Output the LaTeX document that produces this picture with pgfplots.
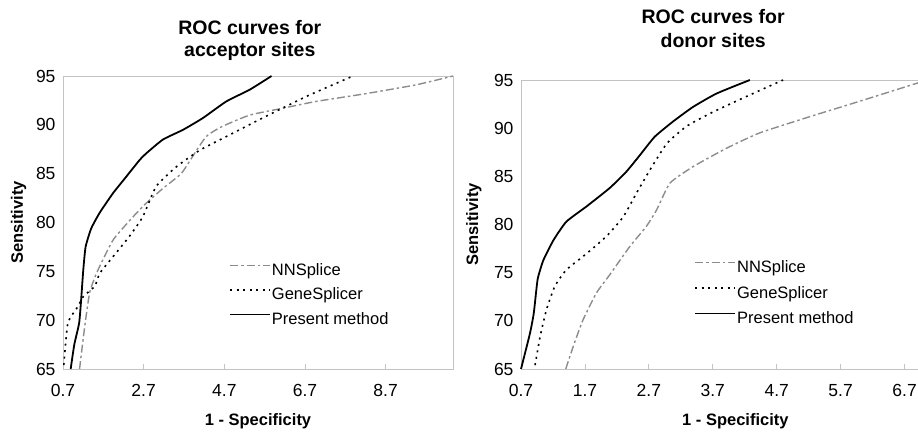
\documentclass[border=0pt]{standalone}
\usepackage{pgfplots}
\pgfplotsset{compat=1.18}
\usepackage{fontspec}
\setmainfont{Liberation Sans}
\definecolor{framegray}{RGB}{195,195,195}
\definecolor{nngray}{RGB}{140,140,140}
\pgfplotsset{
  rocaxis/.style={
    scale only axis, clip=false, anchor=south west,
    ymin=65, ymax=95, ytick={65,70,...,95},
    yticklabels={65,70,75,80,85,90,95},
    axis line style={framegray, line width=0.8pt},
    tick align=inside, major tick length=5pt,
    xtick style={framegray, line width=0.8pt},
    ytick style={draw=none},
    xtick pos=bottom, ytick pos=left,
    ticklabel style={font=\fontsize{17.5}{19}\selectfont},
    xticklabel style={yshift=-12pt},
    yticklabel style={xshift=-4pt},
    xlabel={\textbf{1 - Specificity}},
    ylabel={\textbf{Sensitivity}},
    label style={font=\fontsize{16.5}{18}\selectfont},
    legend cell align=left,
    legend image code/.code={\draw[##1] (0pt,5.5pt) -- (40pt,5.5pt);},
    legend style={draw=none, fill=none, inner sep=0pt, anchor=north west,
      font=\fontsize{16.5}{18}\selectfont,
      nodes={inner sep=1pt, text height=12.5pt, text depth=3.5pt},
      /tikz/every even column/.append style={column sep=2pt}},
  },
  nnstyle/.style={nngray, line width=1.4pt, smooth, tension=0.3, dash pattern=on 8pt off 3pt on 2.5pt off 3pt},
  gsstyle/.style={black, line width=1.6pt, smooth, tension=0.3, dash pattern=on 2pt off 4.5pt},
  pmstyle/.style={black, line width=1.8pt, smooth, tension=0.3},
}
\begin{document}
\begin{tikzpicture}[x=1pt,y=1pt]
\useasboundingbox (0,0) rectangle (918,432);
% ---------- left: acceptor sites
\begin{axis}[rocaxis,
  at={(63pt,63pt)}, width=390pt, height=293pt,
  xmin=0.7, xmax=10.37,
  xtick={0.7,2.7,4.7,6.7,8.7},
  xticklabels={0.7,2.7,4.7,6.7,8.7},
  xlabel style={at={(axis description cs:0.5,0)}, anchor=base, yshift=-56pt},
  ylabel style={at={(axis description cs:-0.1026,0.5)}, anchor=base, rotate=0},
  legend style={at={(axis description cs:0.4256,0.366)}, row sep=6.5pt},
]
\addplot[nnstyle] coordinates {(1.11,65) (1.24,69.4) (1.36,72.8) (1.53,74.8) (1.94,78.2) (2.44,80.6) (2.77,82) (3.18,83.5) (3.63,85) (3.92,86.8) (4.25,88.8) (4.63,89.8) (5.33,91) (6.15,91.7) (6.98,92.4) (8.22,93.2) (9.46,94.1) (10.37,95)};
\addlegendentry{NNSplice}
\addplot[gsstyle] coordinates {(0.72,65.4) (0.82,69.7) (1.07,71.4) (1.2,72.4) (1.49,73.5) (1.61,74.8) (1.94,76.5) (2.35,78.6) (2.68,80.6) (3.01,83.7) (3.51,85.7) (4.09,87.4) (4.75,88.8) (5.41,90.2) (5.99,91.4) (6.73,92.9) (7.39,94.1) (7.89,95)};
\addlegendentry{GeneSplicer}
\addplot[pmstyle] coordinates {(0.89,65) (0.98,67.5) (1.1,69.7) (1.15,72.1) (1.2,75) (1.26,77.5) (1.4,79.4) (1.61,81) (1.94,83) (2.27,84.7) (2.6,86.4) (2.77,87.1) (3.18,88.5) (3.68,89.5) (4.17,90.7) (4.75,92.4) (5.33,93.6) (5.87,95)};
\addlegendentry{Present method}
\node[anchor=base, font=\bfseries\fontsize{19.5}{21}\selectfont] at (axis description cs:0.479,1.143) {ROC curves for};
\node[anchor=base, font=\bfseries\fontsize{19.5}{21}\selectfont] at (axis description cs:0.479,1.065) {acceptor sites};
\end{axis}
% ---------- right: donor sites
\begin{axis}[rocaxis,
  at={(521pt,63pt)}, width=397pt, height=289pt,
  xmin=0.7, xmax=6.91,
  xtick={0.7,1.7,2.7,3.7,4.7,5.7,6.7},
  xticklabels={0.7,1.7,2.7,3.7,4.7,5.7,6.7},
  xlabel style={at={(axis description cs:0.54,0)}, anchor=base, yshift=-56pt},
  ylabel style={at={(axis description cs:-0.108,0.5)}, anchor=base, rotate=0},
  legend style={at={(axis description cs:0.436,0.381)}, row sep=7.5pt},
]
\addplot[nnstyle] coordinates {(1.4,65) (1.52,67.4) (1.67,70.1) (1.88,72.9) (2.09,74.8) (2.4,77.7) (2.66,79.8) (2.82,81.5) (3.03,84.3) (3.39,86) (3.91,87.9) (4.43,89.5) (5.22,91.2) (6.0,92.8) (6.91,94.7)};
\addlegendentry{NNSplice}
\addplot[gsstyle] coordinates {(0.92,65.4) (1.0,68.4) (1.1,71.2) (1.23,73.6) (1.41,75.3) (1.73,77) (2.04,78.8) (2.3,80.8) (2.51,83.3) (2.72,85.7) (2.98,88.4) (3.29,90.2) (3.71,91.7) (4.23,93.3) (4.8,95)};
\addlegendentry{GeneSplicer}
\addplot[pmstyle] coordinates {(0.7,65) (0.84,68.7) (0.9,70.8) (0.96,74.3) (1.05,76.3) (1.21,78.4) (1.41,80.3) (1.73,81.9) (2.09,83.8) (2.35,85.5) (2.56,87.2) (2.79,89.1) (3.08,90.7) (3.39,92.2) (3.76,93.6) (4.28,95)};
\addlegendentry{Present method}
\node[anchor=base, font=\bfseries\fontsize{19.5}{21}\selectfont] at (axis description cs:0.484,1.197) {ROC curves for};
\node[anchor=base, font=\bfseries\fontsize{19.5}{21}\selectfont] at (axis description cs:0.484,1.114) {donor sites};
\end{axis}
\end{tikzpicture}
\end{document}
